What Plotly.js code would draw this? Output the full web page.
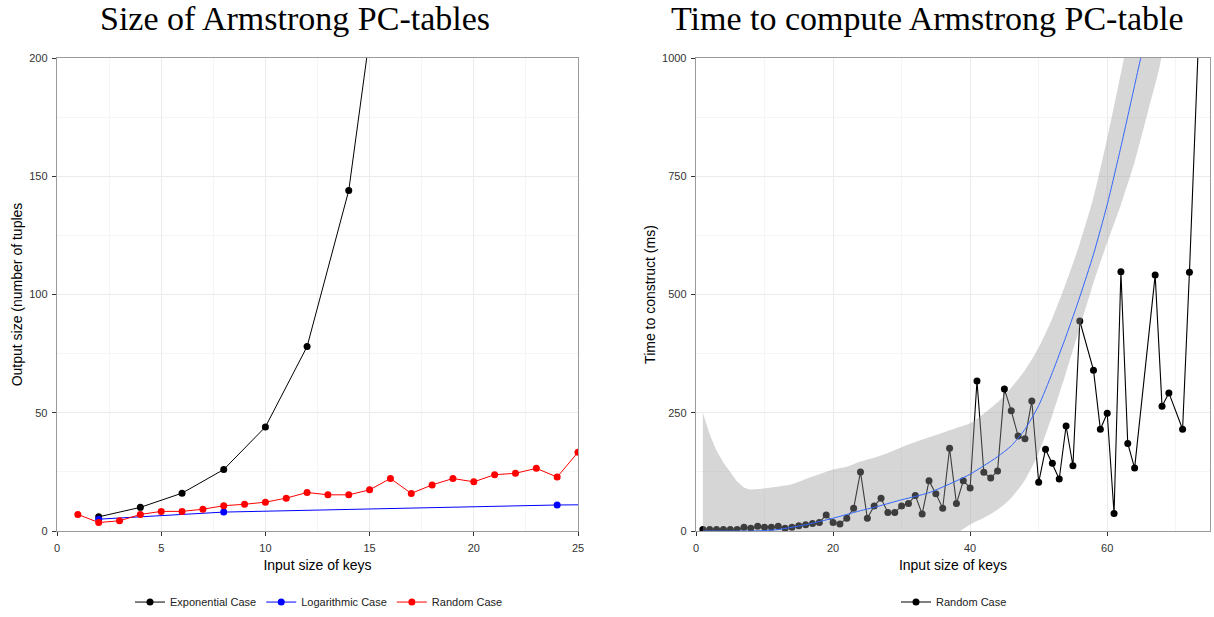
<!DOCTYPE html>
<html>
<head>
<meta charset="utf-8">
<script src="https://cdn.plot.ly/plotly-3.0.1.min.js"></script>
<style>
html,body{margin:0;padding:0;background:#fff;}
#chart{width:1214px;height:617px;}
</style>
</head>
<body>
<div id="chart"></div>
<script>
// ---------- Left chart: Size of Armstrong PC-tables ----------
const expX = [2, 4, 6, 8, 10, 12, 14, 16];
const expY = [6, 10, 16, 26, 44, 78, 144, 274];
const logX = [2, 8, 24, 64];
const logY = [5, 8, 11, 14];
const randX = [1, 2, 3, 4, 5, 6, 7, 8, 9, 10, 11, 12, 13, 14, 15, 16, 17, 18, 19, 20, 21, 22, 23, 24, 25];
const randY = [7, 3.6, 4.3, 7, 8.3, 8.3, 9.2, 10.7, 11.3, 12.2, 13.9, 16.3, 15.3, 15.3, 17.4, 22.2, 15.9, 19.5, 22.2, 20.8, 23.8, 24.4, 26.5, 22.8, 33.3];
const leftXTicks = [0, 5, 10, 15, 20, 25];
const leftYTicks = [0, 50, 100, 150, 200];

// ---------- Right chart: Time to compute Armstrong PC-table ----------
const timeX = [1,2,3,4,5,6,7,8,9,10,11,12,13,14,15,16,17,18,19,20,21,22,23,24,25,26,27,28,29,30,31,32,33,34,35,36,37,38,39,40,41,42,43,44,45,46,47,48,49,50,51,52,53,54,55,56,58,59,60,61,62,63,64,67,68,69,71,72,74];
const timeY = [3,3,3,3,3,3,8,6,10,8,8,10,6,8,11,13,16,18,34,18,15,27,48,125,27,53,69,39,39,53,58,75,36,106,79,48,175,58,106,91,317,124,112,127,300,254,201,195,275,103,173,143,110,222,138,444,340,215,249,37,548,185,133,541,264,292,215,547,1290];
const smoothX = [1,2,3,4,5,6,7,8,10,12,14,16,18,20,22,24,26,28,30,32,34,36,38,40,42,44,46,48,50,52,54,56,58,60,62,64,66,68];
const smoothFit = [0,0,0,0,0,0,0,0,1,3,8,13,20,27,35,43,50,58,66,73,81,93,106,120,138,157,180,215,265,335,412,495,585,690,812,942,1072,1200];
const smoothUpper = [250,205,170,145,125,105,92,88,90,94,99,110,120,130,136,147,155,165,177,188,198,208,218,228,248,272,303,340,388,450,525,608,705,830,968,1110,1250,1390];
const smoothLower = [-250,-205,-170,-145,-125,-105,-92,-88,-88,-88,-83,-84,-80,-76,-66,-61,-55,-49,-45,-40,-34,-20,-5,14,28,45,70,108,165,245,335,430,525,610,690,780,890,1010];
const rightXTicks = [0, 20, 40, 60];
const rightYTicks = [0, 250, 500, 750, 1000];

const ribbonX = smoothX.concat(smoothX.slice().reverse());
const ribbonY = smoothUpper.concat(smoothLower.slice().reverse());

const traces = [
  {x: expX, y: expY, name: 'Exponential Case', mode: 'lines+markers', xaxis: 'x', yaxis: 'y',
   line: {color: '#000000', width: 1}, marker: {color: '#000000', size: 7}, legend: 'legend'},
  {x: logX, y: logY, name: 'Logarithmic Case', mode: 'lines+markers', xaxis: 'x', yaxis: 'y',
   line: {color: '#0000FF', width: 1}, marker: {color: '#0000FF', size: 7}, legend: 'legend'},
  {x: randX, y: randY, name: 'Random Case', mode: 'lines+markers', xaxis: 'x', yaxis: 'y',
   line: {color: '#FF0000', width: 1}, marker: {color: '#FF0000', size: 7}, legend: 'legend'},
  {x: timeX, y: timeY, name: 'Random Case', mode: 'lines+markers', xaxis: 'x2', yaxis: 'y2',
   line: {color: '#000000', width: 1.1}, marker: {color: '#000000', size: 7}, legend: 'legend2'},
  {x: ribbonX, y: ribbonY, mode: 'lines', fill: 'toself', fillcolor: 'rgba(153,153,153,0.4)',
   line: {width: 0, color: 'rgba(0,0,0,0)', shape: 'spline', smoothing: 0.6}, xaxis: 'x2', yaxis: 'y2', showlegend: false, hoverinfo: 'skip'},
  {x: smoothX, y: smoothFit, mode: 'lines', line: {color: '#3366FF', width: 1, shape: 'spline', smoothing: 0.6},
   xaxis: 'x2', yaxis: 'y2', showlegend: false}
];

const tickFont = {family: 'Liberation Sans, Arial, sans-serif', size: 11, color: '#333333'};
const titleFont = {family: 'Liberation Sans, Arial, sans-serif', size: 14, color: '#000000'};
function axisBase() {
  return {
    showline: true, mirror: true, linecolor: '#9a9a9a', linewidth: 1.3,
    ticks: 'outside', ticklen: 4, tickwidth: 1, tickcolor: '#333333', ticklabelstandoff: 2,
    showgrid: true, gridcolor: '#ebebeb', gridwidth: 1,
    zeroline: false, tickfont: tickFont, fixedrange: true
  };
}

const layout = {
  width: 1214, height: 617,
  margin: {l: 0, r: 0, t: 0, b: 0},
  paper_bgcolor: '#ffffff', plot_bgcolor: '#ffffff',
  xaxis: Object.assign(axisBase(), {
    domain: [57/1214, 578/1214], range: [0, 25], tickvals: leftXTicks, anchor: 'y',
    minor: {dtick: 2.5, tick0: 0, showgrid: true, gridcolor: '#f5f5f5', gridwidth: 1, ticklen: 0},
    title: {text: 'Input size of keys', font: titleFont, standoff: 7}
  }),
  yaxis: Object.assign(axisBase(), {
    domain: [(617-533.6)/617, (617-58.3)/617], range: [0, 200], tickvals: leftYTicks, anchor: 'x',
    minor: {dtick: 25, tick0: 0, showgrid: true, gridcolor: '#f5f5f5', gridwidth: 1, ticklen: 0},
    title: {text: 'Output size (number of tuples', font: titleFont, standoff: 3}
  }),
  xaxis2: Object.assign(axisBase(), {
    domain: [696/1214, 1210/1214], range: [0, 75], tickvals: rightXTicks, anchor: 'y2',
    minor: {dtick: 10, tick0: 0, showgrid: true, gridcolor: '#f5f5f5', gridwidth: 1, ticklen: 0},
    title: {text: 'Input size of keys', font: titleFont, standoff: 7}
  }),
  yaxis2: Object.assign(axisBase(), {
    domain: [(617-533.6)/617, (617-58.3)/617], range: [0, 1000], tickvals: rightYTicks, anchor: 'x2',
    minor: {dtick: 125, tick0: 0, showgrid: true, gridcolor: '#f5f5f5', gridwidth: 1, ticklen: 0},
    title: {text: 'Time to construct (ms)', font: titleFont, standoff: 3}
  }),
  legend: {orientation: 'h', x: 319/1214, xanchor: 'center', y: 1 - 605/617, yanchor: 'middle',
           font: {family: 'Liberation Sans, Arial, sans-serif', size: 11, color: '#222222'},
           itemwidth: 30, bgcolor: 'rgba(0,0,0,0)'},
  legend2: {orientation: 'h', x: 954/1214, xanchor: 'center', y: 1 - 605/617, yanchor: 'middle',
           font: {family: 'Liberation Sans, Arial, sans-serif', size: 11, color: '#222222'},
           itemwidth: 30, bgcolor: 'rgba(0,0,0,0)'},
  annotations: [
    {text: 'Size of Armstrong PC-tables', xref: 'paper', yref: 'paper', x: 295/1214, y: 1 - 19/617,
     xanchor: 'center', yanchor: 'middle', showarrow: false,
     font: {family: 'Liberation Serif, Times New Roman, serif', size: 34, color: '#000000'}},
    {text: 'Time to compute Armstrong PC-table', xref: 'paper', yref: 'paper', x: 927/1214, y: 1 - 19/617,
     xanchor: 'center', yanchor: 'middle', showarrow: false,
     font: {family: 'Liberation Serif, Times New Roman, serif', size: 34, color: '#000000'}}
  ],
  showlegend: true,
  hovermode: false
};

Plotly.newPlot('chart', traces, layout, {staticPlot: true, displayModeBar: false});
</script>
</body>
</html>
